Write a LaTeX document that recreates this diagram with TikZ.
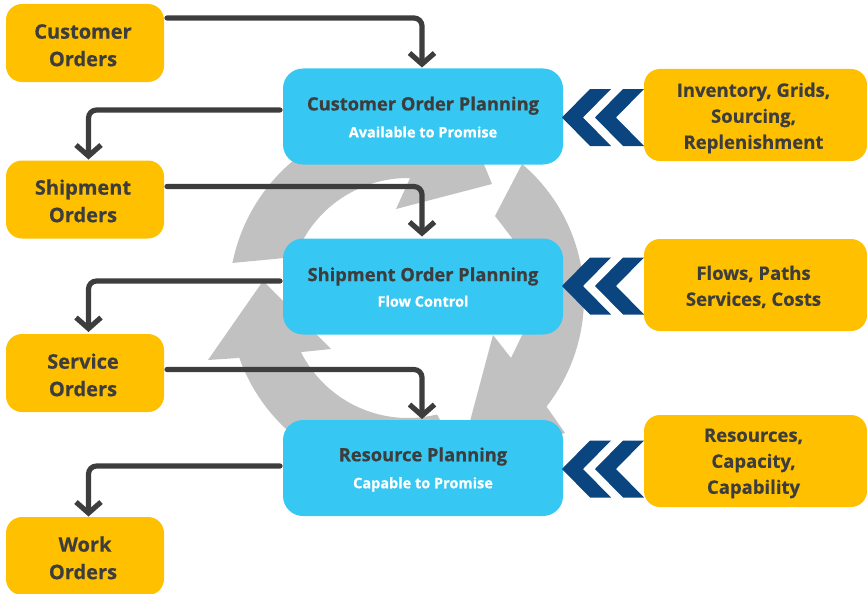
\documentclass[tikz,border=0pt]{standalone}
\usepackage{fontspec}
\setmainfont[BoldFeatures={FakeBold=0.5}]{Open Sans}
\usetikzlibrary{arrows.meta}
\definecolor{amber}{HTML}{FFC000}
\definecolor{sky}{HTML}{36C8F2}
\definecolor{ringgrey}{HTML}{C1C1C1}
\definecolor{ink}{HTML}{3D3D3D}
\definecolor{navy}{HTML}{0B4580}
\tikzset{
  x=1pt,y=-1pt,
  ring/.style={fill=ringgrey,draw=none},
  orderbox/.style={fill=amber,rounded corners=16pt,minimum width=158pt,inner sep=0pt,align=center,text=ink,
    font=\fontsize{20}{27.5}\selectfont\bfseries},
  sidebox/.style={fill=amber,rounded corners=16pt,minimum width=223pt,minimum height=92pt,inner sep=0pt,align=center,text=ink,
    font=\fontsize{18.5}{26}\selectfont\bfseries},
  planbox/.style={fill=sky,rounded corners=20pt,minimum width=280pt,minimum height=96pt,inner sep=0pt,align=center,text=ink,
    font=\fontsize{18.3}{28}\selectfont\bfseries},
  flow/.style={draw=ink,line width=5.2pt,rounded corners=8pt,line cap=round,
    -{Straight Barb[length=11pt,width=25pt,line width=5.2pt]}},
  chev/.style={fill=navy,draw=none},
}
\newcommand{\subt}[1]{{\fontsize{14.5}{20}\selectfont\color{white}#1}}
\newcommand{\dn}[1]{\rule{0pt}{#1}}
\begin{document}
\begin{tikzpicture}
\useasboundingbox (0,0) rectangle (867,594);
% ring arrows
\path[ring] (232,263) -- plot[domain=191.2:232,samples=30] ({408+179*cos(\x)},{298+179*sin(\x)})
  -- (470,130) -- (492,184) -- (396,209)
  -- plot[domain=271:200,samples=30] ({408+120*cos(\x)},{298+120*sin(\x)}) -- cycle;
\path[ring] plot[domain=-49.6:38.1,samples=40] ({408+176*cos(\x)},{298+176*sin(\x)})
  -- (565,433) -- (540,440) -- (465,440) -- (493,335) -- (511,358)
  -- plot[domain=18:-30,samples=30] ({408+120*cos(\x)},{298+120*sin(\x)}) -- (495,216) -- cycle;
\path[ring] (263,281) -- (208,360) -- (238,358)
  -- plot[domain=160.6:125,samples=30] ({408+179*cos(\x)},{298+179*sin(\x)})
  -- (443,425) -- (437,414.5)
  -- plot[domain=76:153.2,samples=40] ({408+120*cos(\x)},{298+120*sin(\x)})
  -- (331,349) -- cycle;
% order boxes
\node[orderbox,minimum height=78pt] (co) at (85,43) {\dn{19pt}Customer\kern4pt\\Orders\kern4pt};
\node[orderbox,minimum height=78pt] (so) at (85,199.5) {\dn{18pt}Shipment\kern4pt\\Orders\kern4pt};
\node[orderbox,minimum height=78pt] (vo) at (85,373) {\dn{19pt}Service\kern4pt\\Orders\kern4pt};
\node[orderbox,minimum height=78pt] (wo) at (85,556) {\dn{19pt}Work\\Orders\kern4pt};
% plan boxes
\node[planbox] (cp) at (423,116.5) {\dn{15pt}Customer Order Planning\\[-1pt]\subt{Available to Promise}};
\node[planbox] (sp) at (423,286.5) {\dn{15pt}Shipment Order Planning\\[-2.5pt]\subt{Flow Control}};
\node[planbox] (rp) at (423,468) {\dn{17pt}Resource Planning\\[-1pt]\subt{Capable to Promise}};
% side boxes
\node[sidebox] (s1) at (755.5,115) {\dn{20pt}Inventory, Grids,\kern4pt\\Sourcing,\kern4pt\\Replenishment\kern4pt};
\node[sidebox] (s2) at (755.5,285) {\dn{18pt}Flows, Paths\kern4pt\\Services, Costs\kern4pt};
\node[sidebox] (s3) at (755.5,461) {\dn{18pt}Resources,\kern4pt\\Capacity,\kern4pt\\Capability\kern4pt};
% chevrons
\foreach \y in {117.5,286,469}{
  \foreach \dx in {0,33}{
    \path[chev] (562+\dx,\y) -- (590+\dx,\y-28.5) -- (611+\dx,\y-28.5) -- (583+\dx,\y) -- (611+\dx,\y+28.5) -- (590+\dx,\y+28.5) -- cycle;
  }
}
% connectors
\coordinate (a1) at (167,18);
\coordinate (a2) at (422,67.5);
\coordinate (b1) at (280,110);
\coordinate (b2) at (88.5,159.5);
\coordinate (c1) at (167,186.5);
\coordinate (c2) at (422,236.5);
\coordinate (d1) at (280,281);
\coordinate (d2) at (88.5,332);
\coordinate (e1) at (167,369.5);
\coordinate (e2) at (422,419);
\coordinate (f1) at (280,466);
\coordinate (f2) at (88.5,516.5);
\draw[flow] (a1) -| (a2);
\draw[flow] (b1) -| (b2);
\draw[flow] (c1) -| (c2);
\draw[flow] (d1) -| (d2);
\draw[flow] (e1) -| (e2);
\draw[flow] (f1) -| (f2);
\end{tikzpicture}
\end{document}
